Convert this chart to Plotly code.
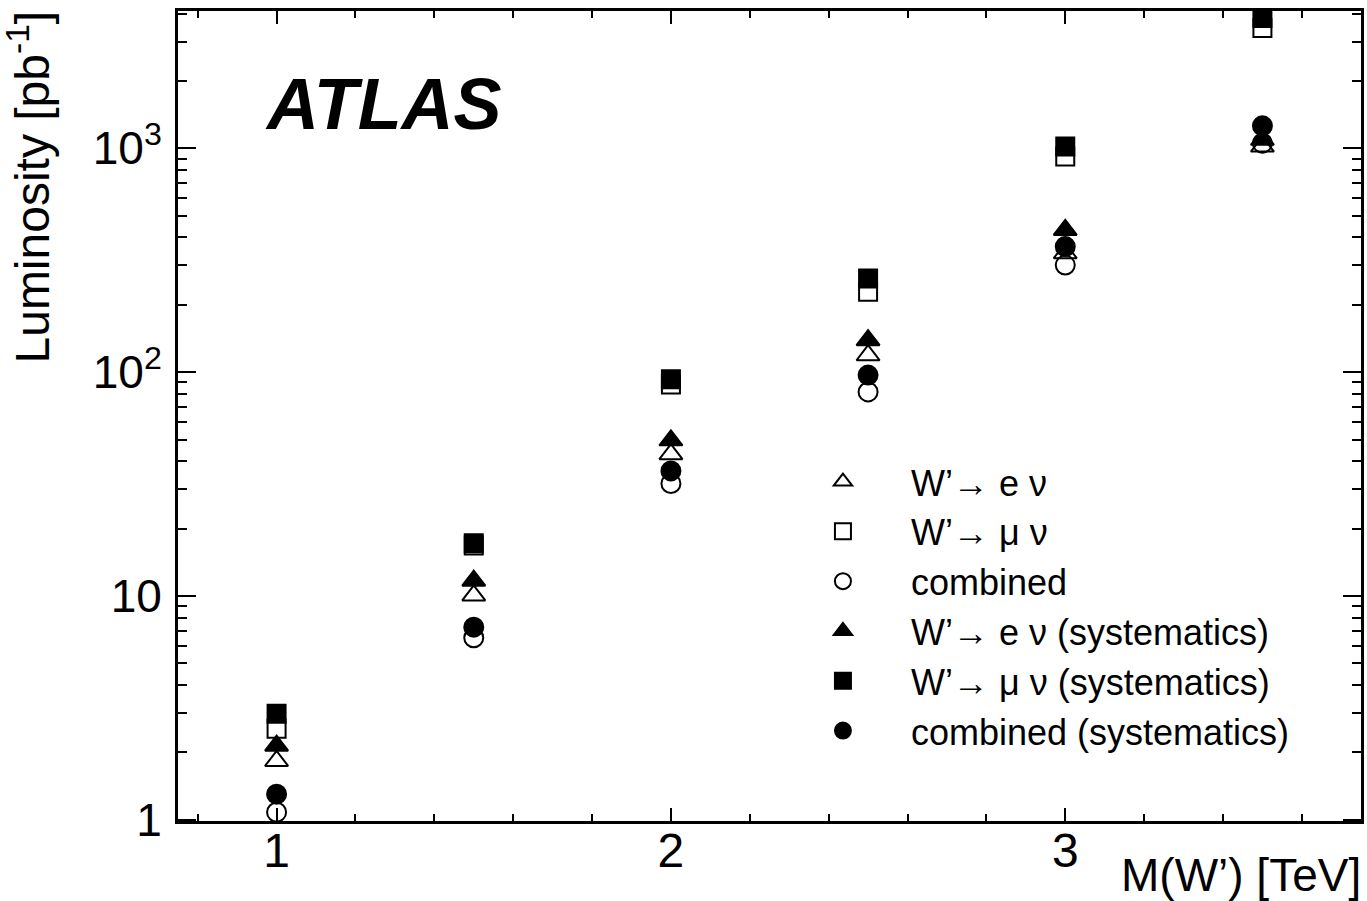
import plotly.graph_objects as go

# Data
mass_tev = [1.0, 1.5, 2.0, 2.5, 3.0, 3.5]
lumi_enu = [1.83, 10.05, 43.0, 119.0, 340.0, 1019.0]
lumi_munu = [2.55, 16.8, 88.0, 229.0, 919.0, 3450.0]
lumi_comb = [1.08, 6.5, 31.8, 81.6, 301.0, 1055.0]
lumi_enu_sys = [2.14, 11.7, 49.6, 139.0, 432.0, 1092.0]
lumi_munu_sys = [2.97, 17.2, 93.0, 262.0, 1019.0, 3826.0]
lumi_comb_sys = [1.30, 7.25, 36.2, 97.0, 364.0, 1261.0]

series_names = [
    "W’→ e ν",
    "W’→ μ ν",
    "combined",
    "W’→ e ν (systematics)",
    "W’→ μ ν (systematics)",
    "combined (systematics)",
]
series_values = [lumi_enu, lumi_munu, lumi_comb, lumi_enu_sys, lumi_munu_sys, lumi_comb_sys]
series_symbols = ["triangle-up-open", "square-open", "circle-open",
                  "triangle-up", "square", "circle"]
series_sizes = [20, 18, 19, 20, 18, 19]

y_tickvals = [1, 10, 100, 1000]
y_ticktext = ["1", "10", "10<sup>2</sup>", "10<sup>3</sup>"]
x_tickvals = [1, 2, 3]
x_ticktext = ["1", "2", "3"]

FONT = "Liberation Sans, Arial, Helvetica, sans-serif"

fig = go.Figure()
for name, vals, sym, sz in zip(series_names, series_values, series_symbols, series_sizes):
    fig.add_trace(go.Scatter(
        x=mass_tev, y=vals, mode="markers", name=name,
        marker=dict(symbol=sym, size=sz, color="black",
                    line=dict(color="black", width=2)),
    ))

fig.update_layout(
    width=1367, height=901,
    margin=dict(l=178, r=3, t=11, b=80),
    paper_bgcolor="white", plot_bgcolor="white",
    font=dict(family=FONT, color="black"),
    showlegend=True,
    legend=dict(
        x=0.5046, y=0.456, xanchor="left", yanchor="top",
        font=dict(size=36, family=FONT, color="black"),
        bgcolor="rgba(0,0,0,0)", borderwidth=0,
        itemwidth=126, tracegroupgap=0,
    ),
)

fig.update_xaxes(
    range=[0.75, 3.75], showgrid=False, zeroline=False,
    showline=True, linecolor="black", linewidth=3, mirror="allticks",
    ticks="inside", ticklen=13, tickwidth=2, tickcolor="black",
    tickvals=x_tickvals, ticktext=x_ticktext,
    tickfont=dict(size=48, family=FONT, color="black"),
    ticklabelstandoff=-15,
    minor=dict(dtick=0.2, tick0=0, ticks="inside", ticklen=7, tickwidth=2,
               tickcolor="black", showgrid=False),
)
fig.update_yaxes(
    type="log", range=[-0.006, 3.614], showgrid=False, zeroline=False,
    showline=True, linecolor="black", linewidth=3, mirror="allticks",
    ticks="inside", ticklen=18, tickwidth=2, tickcolor="black",
    tickvals=y_tickvals, ticktext=y_ticktext,
    tickfont=dict(size=46, family=FONT, color="black"),
    ticklabelstandoff=4,
    minor=dict(dtick="D1", ticks="inside", ticklen=9, tickwidth=2,
               tickcolor="black", showgrid=False),
)

fig.add_annotation(
    text="<b><i>ATLAS</i></b>", xref="paper", yref="paper",
    x=0.0716, y=0.885, xanchor="left", yanchor="middle", showarrow=False,
    font=dict(size=72, family=FONT, color="black"),
)
fig.add_annotation(
    text="M(W’) [TeV]", xref="paper", yref="paper",
    x=1, y=0, xanchor="right", yanchor="top", yshift=-26, xshift=2,
    showarrow=False, font=dict(size=46, family=FONT, color="black"),
)
fig.add_annotation(
    text="Luminosity [pb<sup>-1</sup>]", xref="paper", yref="paper",
    x=0, y=1, xanchor="right", yanchor="top", xshift=-118, yshift=2,
    textangle=-90, showarrow=False,
    font=dict(size=48, family=FONT, color="black"),
)

fig.write_html("out.html")
